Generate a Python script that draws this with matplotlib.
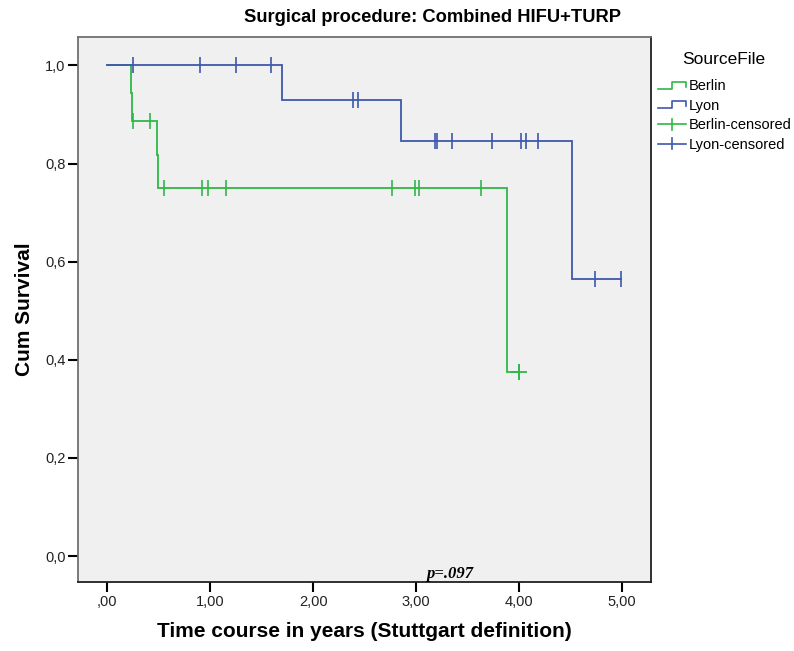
import numpy as np
import matplotlib
matplotlib.use("Agg")
import matplotlib.pyplot as plt
from matplotlib.lines import Line2D
from matplotlib.legend_handler import HandlerBase

plt.rcParams['font.family'] = ['Liberation Sans', 'DejaVu Sans']

# ---- data ----
berlin_event_times = [0.233, 0.243, 0.485, 0.495, 3.88]
berlin_surv = [0.943, 0.886, 0.818, 0.75, 0.375]
berlin_censored = [0.25, 0.42, 0.55, 0.92, 0.98, 1.15, 2.77, 2.99, 3.03, 3.63, 4.00]

lyon_event_times = [1.70, 2.85, 4.51]
lyon_surv = [0.929, 0.845, 0.564]
lyon_censored = [0.25, 0.90, 1.25, 1.59, 2.39, 2.44, 3.18, 3.20, 3.35, 3.74, 4.02, 4.07, 4.18, 4.74, 4.99]

x_ticks = [0, 1, 2, 3, 4, 5]
x_ticklabels = [',00', '1,00', '2,00', '3,00', '4,00', '5,00']
y_ticks = [0.0, 0.2, 0.4, 0.6, 0.8, 1.0]
y_ticklabels = ['0,0', '0,2', '0,4', '0,6', '0,8', '1,0']
series_names = ['Berlin', 'Lyon', 'Berlin-censored', 'Lyon-censored']

GREEN = '#2EB848'
BLUE = '#3E58AC'

fig = plt.figure(figsize=(7.94, 6.51), dpi=100)
ax = fig.add_axes([78/794, 1-582/651, (651-78)/794, (582-37)/651])
ax.set_facecolor('#F0F0F0')


def km_step(times, surv, last):
    xs = [0.0]
    ys = [1.0]
    for t, s in zip(times, surv):
        xs += [t, t]
        ys += [ys[-1], s]
    xs.append(last)
    ys.append(ys[-1])
    return np.array(xs), np.array(ys)


def surv_at(times, surv, t):
    idx = np.searchsorted(np.array(times), t, side='right')
    vals = np.concatenate([[1.0], surv])
    return vals[idx]


for times, surv, cens, col in [
    (berlin_event_times, berlin_surv, berlin_censored, GREEN),
    (lyon_event_times, lyon_surv, lyon_censored, BLUE),
]:
    last = max(max(cens), max(times))
    xs, ys = km_step(times, surv, last)
    ax.plot(xs, ys, color=col, lw=1.3, solid_joinstyle='miter', zorder=3)
    cy = surv_at(times, surv, np.array(cens))
    ax.plot(cens, cy, linestyle='none', marker='|', markersize=11,
            markeredgewidth=1.2, color=col, zorder=4)
# last Berlin censored mark shown as plus
ax.plot([berlin_censored[-1]], [surv_at(berlin_event_times, berlin_surv, np.array([berlin_censored[-1]]))[0]],
        linestyle='none', marker='+', markersize=12, markeredgewidth=1.3, color=GREEN, zorder=4)

ax.set_xlim(-0.282, 5.28)
ax.set_ylim(-0.053, 1.058)
ax.set_xticks(x_ticks)
ax.set_xticklabels(x_ticklabels)
ax.set_yticks(y_ticks)
ax.set_yticklabels(y_ticklabels)
ax.tick_params(axis='both', direction='out', length=7, width=1.5, labelsize=10.5, colors='black', pad=2)
ax.tick_params(axis='both', labelcolor='#222222')
ax.spines['left'].set_color('#707070')
ax.spines['top'].set_color('#707070')
ax.spines['right'].set_color('#202020')
ax.spines['bottom'].set_color('#202020')
for s in ax.spines.values():
    s.set_linewidth(1.3)

ax.set_xlabel('Time course in years (Stuttgart definition)', fontsize=15, fontweight='bold', labelpad=10)
ax.set_ylabel('Cum Survival', fontsize=15, fontweight='bold', labelpad=8)

fig.text(432/794, 1-17/651, 'Surgical procedure: Combined HIFU+TURP', ha='center', va='center',
         fontsize=13.2, fontweight='bold')

ax.text(450/794, 1-574/651, 'p=.097', transform=fig.transFigure, ha='center', va='center',
        fontsize=12, fontweight='bold', fontstyle='italic', family='Liberation Serif')


class StepHandler(HandlerBase):
    def create_artists(self, legend, orig_handle, xdescent, ydescent, width, height, fontsize, trans):
        x0 = -xdescent
        w = width
        yb = -ydescent + height * 0.15
        yt = -ydescent + height * 0.85
        xs = [x0, x0 + w * 0.5, x0 + w * 0.5, x0 + w, x0 + w]
        ys = [yb, yb, yt, yt, yb + (yt - yb) * 0.3]
        ln = Line2D(xs, ys, color=orig_handle.get_color(), lw=1.2, transform=trans)
        return [ln]


class CrossHandler(HandlerBase):
    def create_artists(self, legend, orig_handle, xdescent, ydescent, width, height, fontsize, trans):
        x0 = -xdescent
        w = width
        ym = -ydescent + height / 2
        h1 = Line2D([x0, x0 + w], [ym, ym], color=orig_handle.get_color(), lw=1.2, transform=trans)
        h2 = Line2D([x0 + w / 2, x0 + w / 2], [ym - height * 0.55, ym + height * 0.55],
                    color=orig_handle.get_color(), lw=1.2, transform=trans)
        return [h1, h2]


class StepLine(Line2D):
    pass


class CrossLine(Line2D):
    pass


handles = [StepLine([], [], color=GREEN), StepLine([], [], color=BLUE),
           CrossLine([], [], color=GREEN), CrossLine([], [], color=BLUE)]
leg = fig.legend(handles, series_names, loc='upper left', bbox_to_anchor=(652/794, 1-46/651),
                 frameon=False, title='SourceFile', fontsize=10.5, title_fontsize=12.5,
                 handler_map={StepLine: StepHandler(), CrossLine: CrossHandler()},
                 handlelength=1.9, handletextpad=0.25, labelspacing=0.38, borderaxespad=0)
leg._legend_box.align = 'left'
leg._legend_box.sep = 9
leg.get_title().set_position((24, 0))

fig.savefig('out.png', dpi=100)
